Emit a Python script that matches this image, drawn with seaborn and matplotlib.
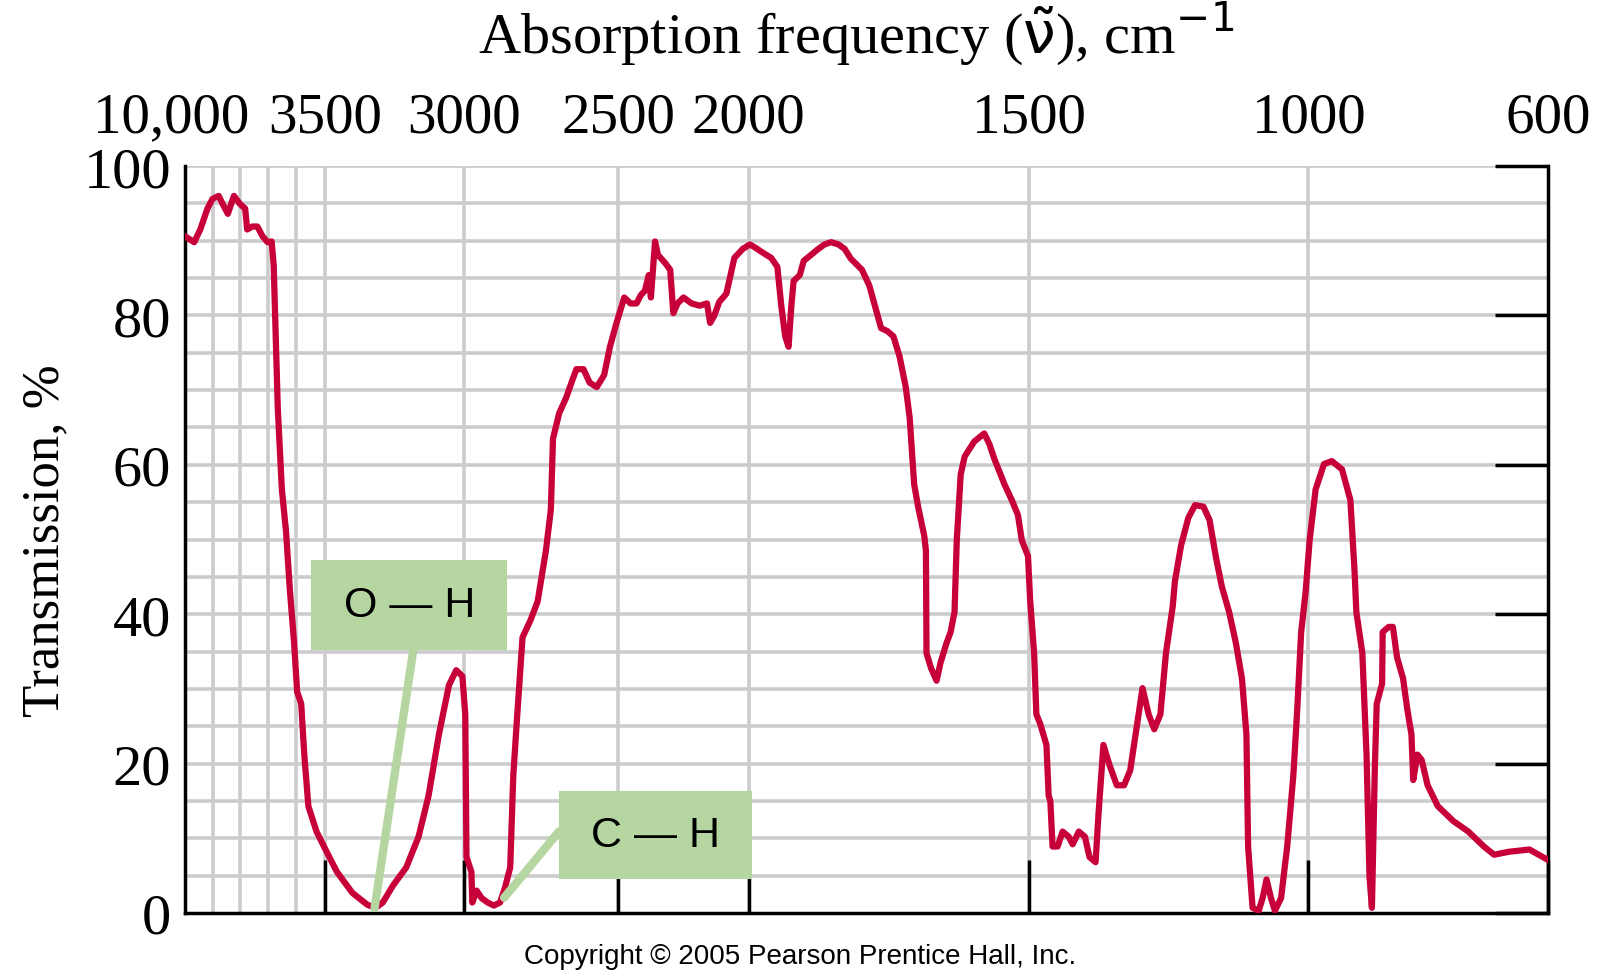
import numpy as np
import matplotlib
matplotlib.use("Agg")
import matplotlib.pyplot as plt
import matplotlib.patches as mpatches
import matplotlib.transforms as mtransforms
import seaborn as sns

# tick anchors of the non-linear wavenumber axis (cm-1) and their relative position
TICK_WN  = [10000, 3500, 3000, 2500, 2000, 1500, 1000, 600]
TICK_LBL = ["10,000", "3500", "3000", "2500", "2000", "1500", "1000", "600"]
TICK_POS = [0, 137, 274, 425, 553, 828, 1102, 1337]
MINOR_WN = [8719, 7438, 6157, 4828]

WAVENUMBER = [
    10000, 9573, 9288, 8956, 8719, 8434, 8244, 8007, 7722, 7438, 7200, 7106, 6868, 6631,
    6394, 6157, 5967, 5872, 5682, 5492, 5302, 5113, 4923, 4780, 4591, 4448, 4258, 3879,
    3493, 3456, 3401, 3347, 3318, 3292, 3255, 3208, 3164, 3128, 3091, 3055, 3029, 3007,
    2997, 2993, 2977, 2974, 2960, 2944, 2924, 2904, 2884, 2868, 2851, 2841, 2828, 2811,
    2785, 2762, 2735, 2719, 2712, 2692, 2669, 2652, 2636, 2613, 2593, 2570, 2546, 2527, 2507,
    2477, 2453, 2430, 2414, 2398, 2383, 2375, 2359, 2348, 2320, 2301, 2289, 2273, 2250,
    2219, 2188, 2160, 2148, 2133, 2113, 2086, 2070, 2055, 2023,
    1998, 1989, 1975, 1960, 1949, 1942, 1935, 1929, 1924, 1920, 1909, 1902, 1889, 1876,
    1865, 1853, 1840, 1829, 1818, 1798, 1785, 1775, 1764, 1753, 1742, 1731, 1720, 1713,
    1705, 1698, 1687, 1684, 1683, 1675, 1665, 1658, 1647, 1640, 1633, 1629, 1622, 1615,
    1598, 1580, 1571, 1562, 1544, 1531, 1520, 1513, 1502,
    1498, 1491, 1487, 1480, 1469, 1465, 1462, 1458, 1449, 1440, 1429, 1422, 1411, 1400,
    1392, 1381, 1376, 1367, 1356, 1343, 1330, 1319, 1308, 1297, 1286, 1276, 1265, 1255,
    1243, 1239, 1228, 1215, 1203, 1188, 1177, 1166, 1155, 1142, 1130, 1119, 1111, 1108,
    1100, 1089, 1082, 1075, 1067, 1060, 1049, 1038, 1027, 1020, 1013, 1005,
    998, 988, 974, 961, 944, 930, 923, 920, 910, 903, 898, 894, 889, 886, 877, 876, 866,
    859, 852, 842, 835, 828, 825, 818, 811, 801, 784, 758, 733, 707, 690, 665, 631, 600,
]
TRANSMISSION = [
    90.6, 89.8, 91.5, 94.3, 95.6, 96.0, 94.9, 93.6, 96.0, 94.9, 94.3, 91.5, 91.9, 91.9,
    90.6, 89.8, 89.9, 86.7, 67.6, 56.7, 51.2, 43.0, 36.2, 29.6, 28.0, 21.2, 14.3, 10.9,
    8.2, 5.5, 2.7, 1.1, 0.7, 1.4, 3.7, 6.1, 10.2, 15.7, 23.9, 30.5, 32.5, 31.7,
    26.6, 7.5, 5.5, 1.4, 3.0, 2.0, 1.4, 1.0, 1.4, 3.4, 6.1, 18.4, 26.6, 36.9,
    39.2, 41.7, 48.5, 54.0, 63.5, 66.9, 69.0, 71.0, 72.8, 72.8, 71.0, 70.4, 72.0, 75.8, 78.8,
    82.4, 81.6, 81.6, 82.7, 83.3, 85.4, 82.4, 89.9, 88.1, 87.0, 86.1, 80.3, 81.6, 82.4,
    81.6, 81.3, 81.6, 79.0, 79.9, 81.8, 82.9, 85.4, 87.7, 88.9,
    89.5, 89.1, 88.4, 87.7, 86.5, 81.3, 77.2, 75.8, 81.3, 84.6, 85.4, 87.3, 88.1, 88.9,
    89.5, 89.8, 89.5, 88.9, 87.6, 86.1, 84.0, 81.3, 78.3, 77.9, 77.2, 74.5, 70.4, 66.3,
    57.4, 54.4, 50.5, 48.5, 34.8, 32.8, 31.1, 33.5, 36.2, 37.6, 40.3, 49.9, 58.7, 61.1,
    63.1, 64.2, 62.8, 60.8, 57.4, 55.3, 53.3, 49.9, 47.8,
    41.7, 34.8, 26.6, 25.3, 22.5, 15.7, 15.0, 8.9, 8.9, 10.9, 10.2, 9.2, 10.9, 10.2,
    7.5, 6.8, 13.0, 22.5, 19.8, 17.1, 17.1, 19.1, 24.6, 30.1, 26.6, 24.6, 26.6, 34.8,
    41.0, 44.4, 49.2, 52.9, 54.6, 54.4, 52.6, 47.8, 43.7, 40.3, 36.2, 31.4, 23.9, 8.9,
    0.7, 0.3, 2.0, 4.5, 2.0, 0.3, 2.0, 8.9, 18.4, 27.3, 37.6, 43.0,
    49.9, 56.7, 60.1, 60.5, 59.4, 55.3, 45.8, 40.3, 34.8, 21.2, 4.8, 0.7, 19.8, 28.0, 30.7, 37.6, 38.3,
    38.3, 34.2, 31.4, 27.3, 23.9, 17.8, 21.2, 20.5, 17.1, 14.3, 12.3, 10.9, 8.9, 7.8, 8.2, 8.5, 7.1,
]

_wn_inc = np.array(TICK_WN[::-1], float)
_pos_inc = np.array(TICK_POS[::-1], float)
_pos = np.array(TICK_POS, float)
_wn = np.array(TICK_WN, float)


def fwd(w):
    # increasing in wavenumber; the axis is then inverted by the limits
    return -np.interp(w, _wn_inc, _pos_inc)


def inv(p):
    return np.interp(-np.asarray(p, float), _pos, _wn)


sns.set_style("white")
plt.rcParams["font.family"] = ["Liberation Serif", "DejaVu Serif"]
plt.rcParams["text.color"] = "black"
plt.rcParams["axes.labelcolor"] = "black"
plt.rcParams["xtick.color"] = "black"
plt.rcParams["ytick.color"] = "black"

fig = plt.figure(figsize=(16, 9.78), dpi=100)
ax = fig.add_axes([185 / 1600, 1 - 914 / 978, (1548 - 185) / 1600, (914 - 167) / 978])
ax.set_xscale("function", functions=(fwd, inv))
ax.set_xlim(10000, 600)
ax.set_ylim(0, 100)

grid_kw = dict(color="#cccccc", lw=2.6, zorder=0)
for yv in range(5, 101, 5):
    ax.axhline(yv, **grid_kw)
for wv in TICK_WN[1:-1] + MINOR_WN:
    ax.axvline(wv, **grid_kw)

sns.lineplot(x=WAVENUMBER, y=TRANSMISSION, ax=ax, sort=False, color="#c8003a",
             lw=4.5, zorder=3, estimator=None)

ax.spines["top"].set_visible(False)
for s in ["left", "bottom", "right"]:
    ax.spines[s].set_color("black")
    ax.spines[s].set_linewidth(2.5)

ax.set_xticks(TICK_WN[1:])
ax.set_xticklabels([])
ax.tick_params(axis="x", direction="in", length=38, width=2.5, bottom=True, top=False)
ax.set_yticks(range(0, 101, 20))
ax.tick_params(axis="y", left=False, right=True, direction="in", length=38, width=2.5,
               labelleft=True, labelright=False, labelsize=42, pad=10)
ax.minorticks_off()

# top wavenumber labels: x in data, y in axes fraction
trans = mtransforms.blended_transform_factory(ax.transData, ax.transAxes)
for wv, lbl in zip(TICK_WN, TICK_LBL):
    t = trans
    if wv == 10000:
        t = trans + mtransforms.ScaledTranslation(-0.14, 0, fig.dpi_scale_trans)
    ax.text(wv, 1.065, lbl, transform=t, ha="center", va="center", fontsize=41,
            clip_on=False)

fig.text(0.535, 1 - 33 / 978, "Absorption frequency ($\\tilde{\\mathrm{\\nu}}$), cm$^{-1}$",
         ha="center", va="center", fontsize=42)

ax.set_ylabel("Transmission, %", fontsize=38)
ax.yaxis.set_label_coords(-0.085, 0.5)
ax.set_xlabel("")

# annotation boxes
green = "#b5d6a0"
W, H = 1337.0, 732.0
for (x0, x1, y0, y1, label, lx0, ly0, lx1, ly1) in [
    (305, 497, 549, 637, "O—H", 405, 637, 367, 890),
    (548, 737, 775, 862, "C—H", 548, 815, 494, 880),
]:
    ax.plot([(lx0 - 181) / W, (lx1 - 181) / W], [(895 - ly0) / H, (895 - ly1) / H],
            transform=ax.transAxes, color=green, lw=6, zorder=4, solid_capstyle="round")
    ax.add_patch(mpatches.Rectangle(((x0 - 181) / W, (895 - y1) / H), (x1 - x0) / W,
                                    (y1 - y0) / H, transform=ax.transAxes, color=green,
                                    zorder=5, lw=0))
    ax.text(((x0 + x1) / 2 - 181) / W, (895 - (y0 + y1) / 2) / H, label.replace("—", " — "),
            transform=ax.transAxes, ha="center", va="center", fontsize=31,
            family=["Liberation Sans", "DejaVu Sans"], zorder=6)

fig.text(0.5, 1 - 957 / 978, "Copyright © 2005 Pearson Prentice Hall, Inc.", ha="center",
         va="center", fontsize=20, family=["Liberation Sans", "DejaVu Sans"])

fig.savefig("out.png", dpi=100)
